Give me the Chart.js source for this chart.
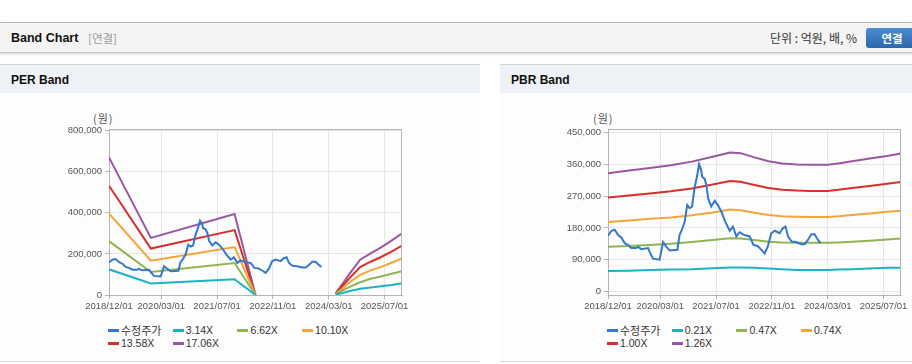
<!DOCTYPE html>
<html><head><meta charset="utf-8">
<script src="https://cdn.jsdelivr.net/npm/chart.js@4/dist/chart.umd.min.js"></script>
<style>
html,body{margin:0;padding:0}
body{width:912px;height:364px;overflow:hidden;background:#fff;position:relative;font-family:"Liberation Sans",Arial,"Noto Sans CJK KR",sans-serif;color:#222}
.abs{position:absolute}
.topline{left:0;top:22px;width:912px;height:1px;background:#bdbdbd}
.hbar{left:0;top:23px;width:912px;height:29px;background:#f4f4f4;border-bottom:1px solid #c6c6c6;box-shadow:0 1px 3px rgba(0,0,0,.18)}
.htitle{left:11px;top:30px;font-weight:bold;font-size:12.5px;line-height:16px;color:#111}
.hsub{left:88px;top:31px;font-size:11.5px;line-height:15px;color:#9a9a9a;font-family:"Noto Sans CJK KR",sans-serif}
.unit{left:770px;top:30px;font-size:12px;line-height:16px;color:#333;font-family:"Noto Sans CJK KR",sans-serif}
.btn{left:866px;top:28px;width:52px;height:20px;border-radius:3px;background:linear-gradient(#4b8bd1,#2c68ad);color:#fff;font-weight:bold;font-size:11.5px;line-height:20px;text-align:center;font-family:"Noto Sans CJK KR",sans-serif}
.panel{top:64px;height:296px;border-top:1px solid #d3d3d3;border-bottom:1px solid #d6d6d6;background:#fdfdfd}
.phead{left:0;top:0;right:0;height:28px;background:#eef1f6}
.ptitle{left:11px;top:7px;font-weight:bold;font-size:12px;line-height:16px;color:#111}
.unitlbl{font-size:11px;line-height:12px;color:#555;font-family:"Noto Sans CJK KR",sans-serif;letter-spacing:1px}
.lgs{height:3px;width:11px}
.lgt{font-size:10.5px;line-height:12px;color:#333;white-space:nowrap}
.lgt.kr{font-family:"Noto Sans CJK KR",sans-serif;font-size:11px}
canvas{position:absolute}
</style></head>
<body>
<div class="abs topline"></div>
<div class="abs hbar"></div>
<div class="abs htitle">Band Chart</div>
<div class="abs hsub">[연결]</div>
<div class="abs unit">단위 : 억원, 배, %</div>
<div class="abs btn">연결</div>

<div class="abs panel" style="left:0;width:480px"><div class="abs phead"><div class="abs ptitle">PER Band</div></div></div>
<div class="abs panel" style="left:500px;width:420px"><div class="abs phead"><div class="abs ptitle">PBR Band</div></div></div>

<div class="abs unitlbl" style="left:93px;top:112px">(원)</div>
<div class="abs unitlbl" style="left:593px;top:112px">(원)</div>

<canvas id="per" width="420" height="205" style="left:0;top:110px;width:420px;height:205px"></canvas>
<canvas id="pbr" width="420" height="205" style="left:500px;top:110px;width:420px;height:205px"></canvas>

<div id="lg"></div>

<script>
// ---- x axis (months since 2018/12) ----
const tickMonths = [0, 15, 31, 47, 63, 79];
const tickLabels = ['2018/12/01', '2020/03/01', '2021/07/01', '2022/11/01', '2024/03/01', '2025/07/01'];

// ---- y ticks ----
const perYTicks = [0, 200000, 400000, 600000, 800000];
const pbrYTicks = [0, 90000, 180000, 270000, 360000, 450000];

// ---- adjusted price (수정주가) ----
const priceMonths = [0,1,1.9,2.9,3.8,4.8,5.7,6.7,8.1,8.6,9.5,11.5,11.9,12.9,14.8,15.8,16.7,17.7,19.9,20.5,21.2,22,22.7,23.4,24.1,24.8,25.6,26.1,26.7,27,27.7,28.2,28.7,29.6,30.6,31.5,32.5,33.6,34.9,35.8,36.8,37.7,39.1,40.6,41.7,42.9,44,44.9,45.8,46.8,47.8,49.2,50.1,50.9,51.6,52.6,53.9,55.4,56.4,57.3,58.3,59.2,60.2,60.9];
const priceValues = [158000,172000,175000,160000,153000,137000,132000,123000,123000,127000,120000,123000,113000,93000,90000,140000,127000,116000,118000,160000,175000,198000,245000,236000,241000,293000,330000,361000,344000,325000,319000,302000,264000,241000,257000,245000,226000,198000,172000,184000,156000,168000,160000,156000,132000,129000,118000,108000,127000,165000,172000,165000,179000,184000,156000,142000,140000,134000,134000,146000,162000,162000,146000,137000];

// ---- PER bands ----
const perLabels = ['수정주가', '3.14X', '6.62X', '10.10X', '13.58X', '17.06X'];
const perBandMonths = [0, 12, 36, 42, 53, 65, 67, 69, 72, 75, 78, 81, 84];
const per314  = [125000, 56000, 77000, 0, null, 2000, 10000, 19000, 30000, 37000, 43000, 49000, 57000];
const per662  = [262000, 112000, 156000, 0, null, 3000, 22000, 40000, 62000, 79000, 90000, 103000, 116000];
const per1010 = [397000, 167000, 233000, 0, null, 5000, 33000, 62000, 98000, 120000, 137000, 157000, 178000];
const per1358 = [532000, 226000, 316000, 0, null, 7000, 45000, 83000, 136000, 162000, 185000, 211000, 241000];
const per1706 = [670000, 278000, 394000, 0, null, 9000, 56000, 104000, 172000, 203000, 232000, 265000, 300000];

// ---- PBR bands ----
const pbrLabels = ['수정주가', '0.21X', '0.47X', '0.74X', '1.00X', '1.26X'];
const pbrBandMonths = [0, 6, 12, 18, 24, 30, 35, 38, 42, 46, 50, 54, 58, 63, 66, 70, 75, 80, 84];
const pbr021 = [58000, 59000, 61000, 62000, 63000, 66000, 68000, 68000, 67000, 65000, 63000, 61000, 61000, 61000, 62000, 63000, 65000, 67000, 67000];
const pbr047 = [127000, 129000, 132000, 135000, 140000, 146000, 151000, 150000, 146000, 141000, 139000, 138000, 138000, 138000, 139000, 141000, 144000, 147000, 150000];
const pbr074 = [197000, 201000, 206000, 210000, 216000, 224000, 232000, 230000, 223000, 217000, 213000, 212000, 211000, 211000, 213000, 217000, 221000, 226000, 229000];
const pbr100 = [266000, 272000, 278000, 284000, 292000, 303000, 313000, 311000, 302000, 293000, 288000, 286000, 285000, 285000, 288000, 293000, 299000, 305000, 310000];
const pbr126 = [335000, 343000, 350000, 358000, 368000, 382000, 394000, 392000, 380000, 369000, 363000, 360000, 359000, 359000, 363000, 369000, 377000, 384000, 391000];

const seriesColors = ['#3478ce', '#1db1c6', '#8fb552', '#f5a538', '#d5302b', '#9a56a2'];

function pts(xs, ys) { return xs.map((x, i) => ({ x: x, y: ys[i] })); }
function fmt(v) { return String(v).replace(/\B(?=(\d{3})+(?!\d))/g, ','); }

const framePlugin = {
  id: 'frame',
  afterDraw(chart) {
    const a = chart.chartArea, c = chart.ctx;
    c.save();
    c.strokeStyle = '#b4b4b4';
    c.lineWidth = 1;
    c.beginPath();
    c.moveTo(Math.round(a.left) + 0.5, Math.round(a.top) + 0.5);
    c.lineTo(Math.round(a.right) - 0.5, Math.round(a.top) + 0.5);
    c.lineTo(Math.round(a.right) - 0.5, Math.round(a.bottom));
    c.stroke();
    c.restore();
  }
};

Chart.defaults.font.family = '"Liberation Sans", Arial, sans-serif';

function makeChart(id, labels, bandMonths, bands, yMin, yMax, yTicks, yWidth, padRight) {
  const datasets = [{ label: labels[0], data: pts(priceMonths, priceValues), borderColor: seriesColors[0] }];
  bands.forEach((b, i) => datasets.push({ label: labels[i + 1], data: pts(bandMonths, b), borderColor: seriesColors[i + 1] }));
  datasets.forEach(d => { d.borderWidth = 2; d.pointRadius = 0; d.tension = 0; d.fill = false; d.spanGaps = false; });
  return new Chart(document.getElementById(id), {
    type: 'line',
    data: { datasets },
    options: {
      responsive: false, animation: false, devicePixelRatio: 1,
      layout: { padding: { left: 0, right: padRight, top: 19, bottom: 0 } },
      plugins: { legend: { display: false }, tooltip: { enabled: false } },
      scales: {
        x: {
          type: 'linear', min: 0, max: 84, offset: false,
          afterBuildTicks: s => { s.ticks = tickMonths.map(v => ({ value: v })); },
          afterFit: s => { s.height = 20; },
          ticks: { autoSkip: false, maxRotation: 0, minRotation: 0, padding: 2, color: '#555', font: { size: 9.5 },
                   callback: v => tickLabels[tickMonths.indexOf(v)] },
          grid: { color: '#e6e6e6', tickLength: 4, tickColor: '#b4b4b4' },
          border: { color: '#b4b4b4' }
        },
        y: {
          min: yMin, max: yMax,
          afterBuildTicks: s => { s.ticks = yTicks.map(v => ({ value: v })); },
          afterFit: s => { s.width = yWidth; },
          ticks: { padding: 3, color: '#555', font: { size: 9.5 }, callback: v => fmt(v) },
          grid: { color: '#e6e6e6', tickLength: 4, tickColor: '#b4b4b4' },
          border: { color: '#b4b4b4' }
        }
      }
    },
    plugins: [framePlugin]
  });
}

makeChart('per', perLabels, perBandMonths, [per314, per662, per1010, per1358, per1706], 0, 808000, perYTicks, 109, 18);
makeChart('pbr', pbrLabels, pbrBandMonths, [pbr021, pbr047, pbr074, pbr100, pbr126], -10000, 460500, pbrYTicks, 108, 19);

// ---- HTML legends (fixed-width columns) ----
function legend(labels, x0) {
  const lg = document.getElementById('lg');
  const colW = 64.7, rows = [330, 343];
  labels.forEach((t, i) => {
    const r = i < 4 ? 0 : 1, c = i < 4 ? i : i - 4;
    const x = x0 + c * colW, y = rows[r];
    const s = document.createElement('div');
    s.className = 'abs lgs';
    s.style.left = x + 'px'; s.style.top = (y - 1) + 'px'; s.style.background = seriesColors[i];
    lg.appendChild(s);
    const tx = document.createElement('div');
    tx.className = 'abs lgt' + (/[가-힣]/.test(t) ? ' kr' : '');
    tx.style.left = (x + 13) + 'px'; tx.style.top = (y - 6) + 'px';
    tx.textContent = t;
    lg.appendChild(tx);
  });
}
legend(perLabels, 108);
legend(pbrLabels, 607);
</script>
</body></html>
